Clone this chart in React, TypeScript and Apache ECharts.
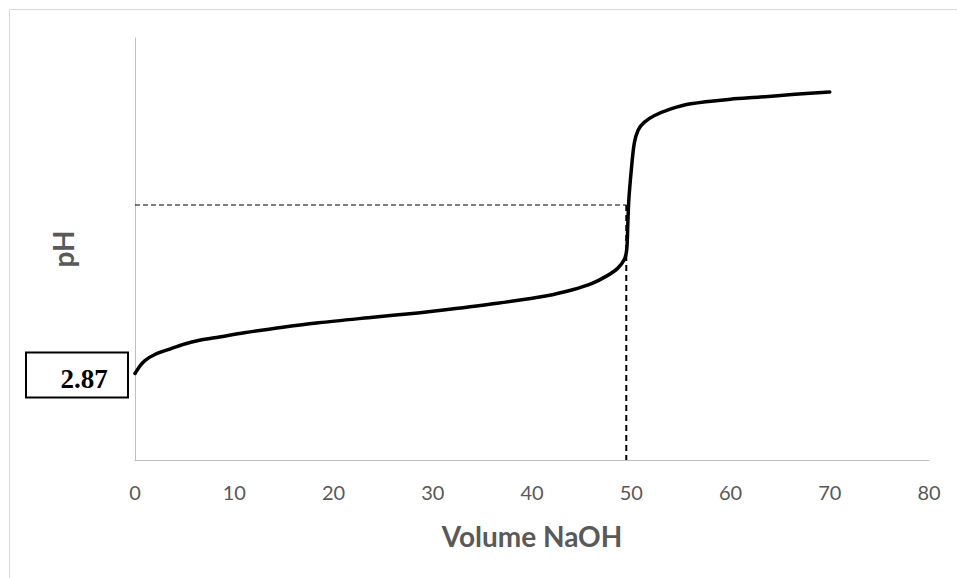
import React, { useEffect, useRef } from "react";
import * as echarts from "echarts";

const volumeNaOH = [0, 0.5, 1, 2, 3.5, 5, 6.5, 8.5, 11, 13.5, 18.5, 23.5, 28.5, 31.5, 36.5, 41.5, 44, 46, 47.5, 48.6, 49.3, 49.55, 49.65, 49.75, 50, 50.3, 50.7, 51.3, 52.3, 54, 56, 60, 63, 66.5, 70];
const pHValues = [2.87, 3.12, 3.3, 3.5, 3.68, 3.85, 3.97, 4.08, 4.22, 4.34, 4.55, 4.72, 4.88, 4.99, 5.2, 5.45, 5.64, 5.85, 6.1, 6.35, 6.65, 7.0, 7.8, 8.6, 9.6, 10.5, 10.95, 11.2, 11.42, 11.65, 11.82, 11.97, 12.04, 12.13, 12.21];
const xTicks = [0, 10, 20, 30, 40, 50, 60, 70, 80];
const equivalenceVolume = 49.5;
const equivalencePH = 8.46;
const initialPH = 2.87;

export default function App() {
  const ref = useRef<HTMLDivElement>(null);
  useEffect(() => {
    if (!ref.current) return;
    const chart = echarts.init(ref.current, undefined, { renderer: "svg" });
    const titleFont = "Lato, 'Open Sans', sans-serif";
    chart.setOption({
      animation: false,
      grid: { left: 135, right: 28, top: 38, bottom: 118 },
      xAxis: {
        type: "value",
        min: xTicks[0],
        max: xTicks[xTicks.length - 1],
        interval: xTicks[1] - xTicks[0],
        axisLine: { show: true, lineStyle: { color: "#bfbfbf", width: 1 } },
        axisTick: { show: false },
        splitLine: { show: false },
        axisLabel: { color: "#595959", fontSize: 20, fontFamily: titleFont, margin: 22 },
        name: "Volume NaOH",
        nameLocation: "middle",
        nameGap: 62,
        nameTextStyle: { color: "#595959", fontSize: 28, fontWeight: "bold", fontFamily: titleFont },
      },
      yAxis: {
        type: "value",
        min: 0,
        max: 14,
        axisLine: { show: true, lineStyle: { color: "#bfbfbf", width: 1 } },
        axisTick: { show: false },
        splitLine: { show: false },
        axisLabel: { show: false },
        name: "pH",
        nameLocation: "middle",
        nameGap: 58,
        nameRotate: 90,
        nameTextStyle: { color: "#595959", fontSize: 28, fontWeight: "bold", fontFamily: titleFont },
      },
      series: [
        {
          type: "line",
          data: [[0, equivalencePH], [equivalenceVolume, equivalencePH]],
          showSymbol: false,
          symbol: "none",
          lineStyle: { color: "#000000", width: 1.2, type: [5, 3] },
          z: 1,
          silent: true,
        },
        {
          type: "line",
          data: [[equivalenceVolume, equivalencePH], [equivalenceVolume, 0]],
          showSymbol: false,
          symbol: "none",
          lineStyle: { color: "#000000", width: 2, type: [6, 4] },
          z: 1,
          silent: true,
        },
        {
          type: "line",
          data: volumeNaOH.map((x, i) => [x, pHValues[i]]),
          smooth: 0.3,
          showSymbol: false,
          symbol: "none",
          lineStyle: { color: "#000000", width: 3.5, cap: "round", join: "round" },
          z: 2,
        },
      ],
    });
    const yPix = chart.convertToPixel({ yAxisIndex: 0 }, initialPH) as number;
    chart.setOption({
      graphic: [
        {
          type: "rect",
          shape: { x: 9.5, y: 9.5, width: 2000, height: 2000 },
          style: { fill: "none", stroke: "#d9d9d9", lineWidth: 1 },
          silent: true,
          z: -10,
        },
        {
          type: "rect",
          shape: { x: 26, y: yPix - 21, width: 102, height: 45 },
          style: { fill: "#ffffff", stroke: "#000000", lineWidth: 2 },
          z: 10,
        },
        {
          type: "text",
          x: 84,
          y: yPix + 6,
          style: {
            text: initialPH.toFixed(2),
            fill: "#000000",
            font: "bold 27px 'Liberation Serif', 'Times New Roman', serif",
            align: "center",
            verticalAlign: "middle",
          },
          z: 11,
        },
      ],
    });
    return () => chart.dispose();
  }, []);
  return (
    <div
      ref={ref}
      style={{ position: "fixed", left: 0, top: 0, width: 957, height: 578, background: "#ffffff" }}
    />
  );
}
